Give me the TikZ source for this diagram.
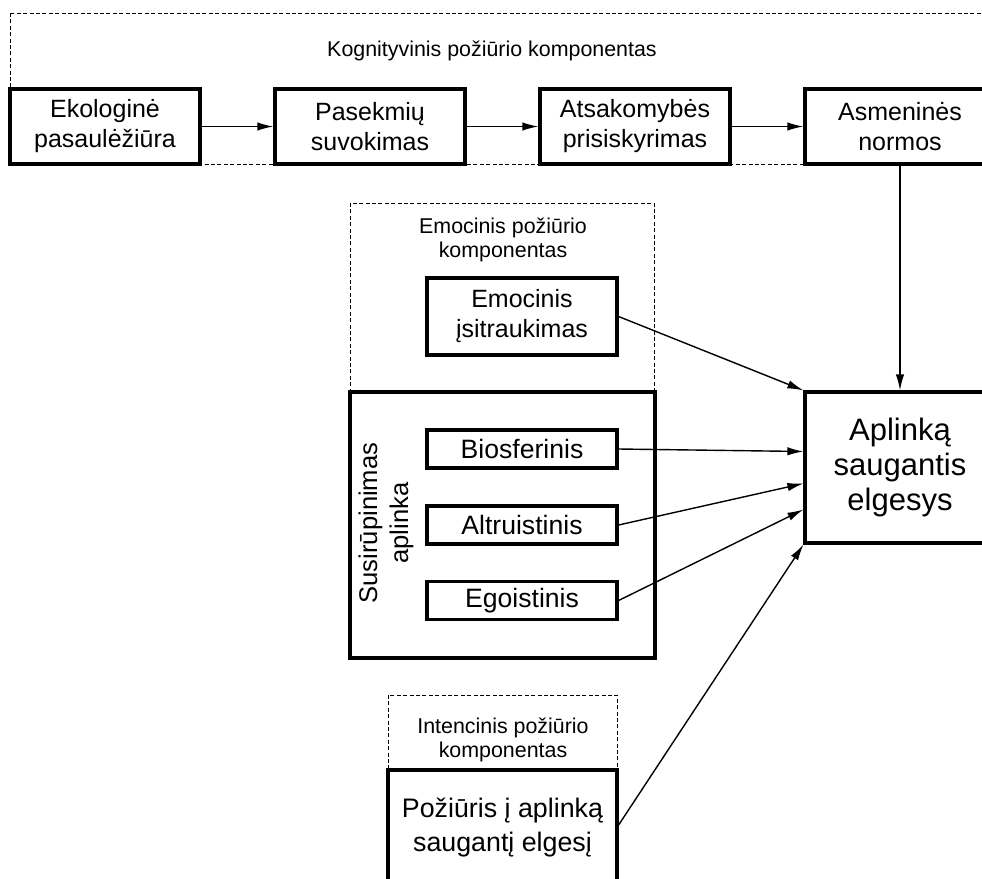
\documentclass[tikz,border=0pt]{standalone}
\usepackage{fontspec}
\setmainfont{Liberation Sans}
\usetikzlibrary{arrows.meta, positioning}
\tikzset{
  box/.style={draw, line width=1.6pt, fill=white, minimum width=95pt, minimum height=37.5pt,
              align=center, inner sep=2pt, font=\fontsize{12.5}{15}\selectfont},
  smallbox/.style={box, minimum height=19pt, font=\fontsize{13.3}{15}\selectfont},
  frame/.style={draw, line width=0.5pt, dash pattern=on 2pt off 1.2pt},
  caption/.style={align=center, font=\fontsize{10.7}{12.2}\selectfont},
  conn/.style={line width=0.7pt, -{Latex[length=8pt, width=4.2pt]}}
}

\begin{document}
\begin{tikzpicture}[x=0.5pt, y=-0.5pt]
\useasboundingbox (0,0) rectangle (982,879);
\clip (0,0) rectangle (982,879);

% kognityvinis
\draw[frame] (10,13) rectangle (1010,164);
\node[caption] (kogcap) at (492,51) {Kognityvinis požiūrio komponentas};

\node[box] (eko) at (105,126.5) {Ekologinė\\pasaulėžiūra};
\node[box] (pas) at (370,126.5) {Pasekmių\\suvokimas};
\node[box] (ats) at (635,126.5) {Atsakomybės\\prisiskyrimas};
\node[box] (asm) at (900,126.5) {Asmeninės\\normos};

\draw[conn] (eko) -- (pas);
\draw[conn] (pas) -- (ats);
\draw[conn] (ats) -- (asm);

% emocinis
\draw[frame] (350,203) rectangle (654,392);
\node[caption] (emocap) at (503,240) {Emocinis požiūrio\\komponentas};
\node[box, minimum height=38.5pt] (emo) at (522,316.5) {Emocinis\\įsitraukimas};

% susirupinimas aplinka
\node[box, minimum width=152.5pt, minimum height=133pt] (sus) at (502.5,525) {};
\node[rotate=90, align=center, font=\fontsize{12.8}{15.5}\selectfont] (suscap) at (386,523) {Susirūpinimas\\aplinka};
\node[smallbox] (bio) at (522,449) {Biosferinis};
\node[smallbox] (alt) at (522,525) {Altruistinis};
\node[smallbox] (ego) at (522,600.5) {Egoistinis};

% intencinis
\draw[frame] (388,695) rectangle (617,770);
\node[caption] (intcap) at (503,740) {Intencinis požiūrio\\komponentas};
\node[box, minimum width=114.5pt, minimum height=58pt, font=\fontsize{13.4}{17}\selectfont] (poz) at (502.5,828) {Požiūris į aplinką\\saugantį elgesį};

% elgesys
\node[box, minimum height=75.5pt, font=\fontsize{15.5}{17.5}\selectfont] (apl) at (900,467.5) {Aplinką\\saugantis\\elgesys};

\draw[conn] (asm) -- (apl);
\draw[conn] (emo.east) -- (apl.north west);
\draw[conn] (bio.east) -- ([yshift=8pt]apl.west);
\draw[conn] (alt.east) -- ([yshift=-8pt]apl.west);
\draw[conn] (ego.east) -- ([yshift=-21pt]apl.west);
\draw[conn] ([yshift=1.5pt]poz.east) -- (apl.south west);
\end{tikzpicture}
\end{document}
